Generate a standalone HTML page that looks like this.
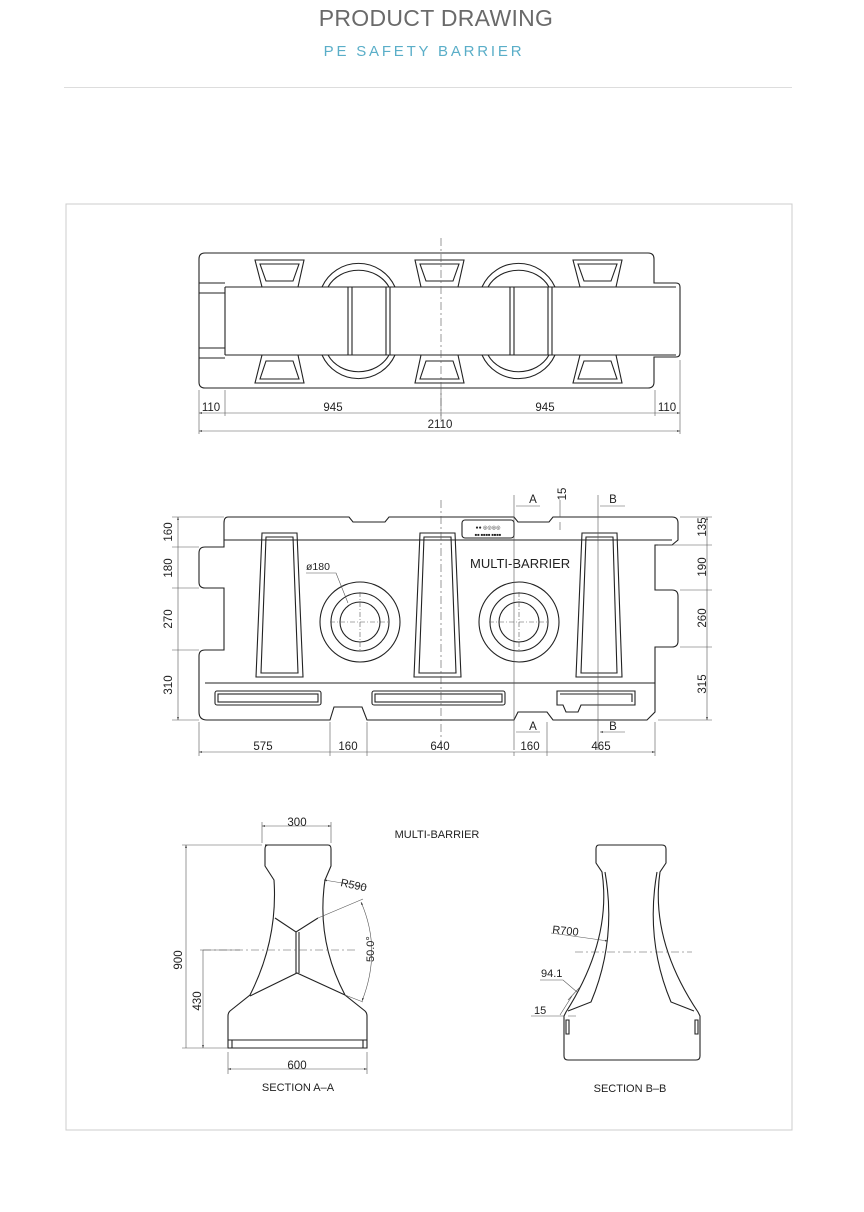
<!DOCTYPE html>
<html><head><meta charset="utf-8"><style>
html,body{margin:0;padding:0;background:#fff;}
body{width:864px;height:1212px;position:relative;overflow:hidden;font-family:"Liberation Sans",sans-serif;}
.t1{position:absolute;top:5px;left:0;width:872px;text-align:center;font-size:23px;color:#6a6a6a;letter-spacing:0.3px;}
.t2{position:absolute;top:43px;left:0;width:848px;text-align:center;font-size:15px;color:#5aaec8;letter-spacing:2.8px;}
.hr{position:absolute;top:87px;left:64px;width:728px;height:1px;background:#ddd;}
svg{position:absolute;left:0;top:0;}
text{font-family:"Liberation Sans",sans-serif;fill:#222;}
</style></head><body>
<div class="t1">PRODUCT DRAWING</div>
<div class="t2">PE SAFETY BARRIER</div>
<div class="hr"></div>
<svg width="864" height="1212" viewBox="0 0 864 1212">
<defs><marker id="a" viewBox="0 0 10 10" refX="10" refY="5" markerWidth="7" markerHeight="5" orient="auto-start-reverse"><path d="M0,2 L10,5 L0,8z" fill="#333"/></marker></defs>
<rect x="66" y="204" width="726" height="926" fill="none" stroke="#ccc" stroke-width="1"/>
<g fill="none" stroke="#222" stroke-width="1.1">
<!-- TOP VIEW -->
<path d="M205,253 H648 Q654,253 654,259 V283 H676 Q680,283 680,287 V353 Q680,357 676,357 H654 V382 Q654,388 648,388 H205 Q199,388 199,382 V259 Q199,253 205,253Z"/>
<path d="M225,287 H676 M225,355 H676 M225,287 V355 M199,283 H225 M199,358 H225 M199,293 H225 M199,348 H225"/>
<path d="M255,260 H304 L298,287 H262Z M415,260 H464 L458,287 H421Z M573,260 H622 L616,287 H580Z"/>
<path d="M260,264 H299 L293,281 H266Z M420,264 H459 L453,281 H426Z M578,264 H617 L611,281 H584Z"/>
<path d="M262,355 H298 L304,383 H255Z M421,355 H458 L464,383 H415Z M580,355 H616 L622,383 H573Z"/>
<path d="M266,361 H293 L299,379 H260Z M426,361 H453 L459,379 H420Z M584,361 H611 L617,379 H578Z"/>
<path d="M322,287 A40,40 0 0 1 395,287 M328,287 A34,30 0 0 1 389,287 M322,355 A40,40 0 0 0 395,355 M328,355 A34,30 0 0 0 389,355 M482,287 A40,40 0 0 1 555,287 M488,287 A34,30 0 0 1 549,287 M482,355 A40,40 0 0 0 555,355 M488,355 A34,30 0 0 0 549,355"/>
<path d="M348,287 V355 M352,287 V355 M386,287 V355 M390,287 V355 M510,287 V355 M514,287 V355 M548,287 V355 M552,287 V355"/>
</g>
<g stroke="#555" stroke-width="0.6" fill="none">
<path d="M441,238 V420" stroke-dasharray="8,3,2,3"/>
<path d="M199,390 V434 M225,390 V416 M441,390 V416 M655,390 V416 M680,360 V434"/>
<path d="M199,413 H225 M225,413 H441 M441,413 H655 M655,413 H680" marker-start="url(#a)" marker-end="url(#a)"/>
<path d="M199,431 H680" marker-start="url(#a)" marker-end="url(#a)"/>
</g>
<g font-size="11.5" text-anchor="middle">
<text x="211" y="411">110</text><text x="333" y="411">945</text><text x="545" y="411">945</text><text x="667" y="411">110</text><text x="440" y="428">2110</text>
</g>
<!-- FRONT VIEW -->
<g fill="none" stroke="#222" stroke-width="1.1">
<path d="M228,517 H349 L353,522 H385 L389,517 H514 L518,522 H549 L553,517 H672 Q678,517 678,523 V540 L672,545 H655 V590 H672 Q678,590 678,596 V641 Q678,647 672,647 H655 V712 L647,720 H553 L547,712 H518 L514,720 H367 L362,707 H334 L330,720 H207 Q199,720 199,712 V656 Q199,650 205,650 H224 V588 H205 Q199,588 199,582 V553 Q199,547 205,547 H224 V523 Q224,517 228,517Z"/>
<path d="M224,540 H672 M205,683 H655"/>
<path d="M262,533 H297 L303,677 H256Z M266,537 H293 L298,673 H261Z"/>
<path d="M420,533 H455 L461,677 H414Z M424,537 H451 L456,673 H419Z"/>
<path d="M582,533 H617 L622,677 H576Z M586,537 H613 L617,673 H581Z"/>
<circle cx="360" cy="622" r="40"/><circle cx="360" cy="622" r="29"/><circle cx="360" cy="622" r="20"/>
<circle cx="519" cy="622" r="40"/><circle cx="519" cy="622" r="29"/><circle cx="519" cy="622" r="20"/>
<rect x="215" y="691" width="106" height="14" rx="2"/><rect x="218" y="694" width="100" height="8"/>
<rect x="372" y="691" width="133" height="14" rx="2"/><rect x="375" y="694" width="127" height="8"/>
<path d="M557,691 H635 V705 H581 L578,712 H566 L563,705 H557Z M560,694 H632 V702"/>
<rect x="462" y="520" width="52" height="18" rx="3"/>
</g>
<text x="488" y="529" font-size="5" text-anchor="middle">●● ◎◎◎◎</text>
<text x="488" y="536" font-size="4" text-anchor="middle">■■ ■■■■ ■■■■</text>
<text x="470" y="568" font-size="13">MULTI-BARRIER</text>
<text x="306" y="570" font-size="10.5">ø180</text>
<g stroke="#555" stroke-width="0.6" fill="none">
<path d="M306,573 H336 L348,603"/>
<path d="M441,500 V745" stroke-dasharray="8,3,2,3"/>
<path d="M330,622 H390 M360,592 V652 M489,622 H549 M519,592 V652" stroke-dasharray="5,2,1,2"/>
<path d="M514,495 V750 M598,495 V750"/>
<path d="M540,506 H516 M625,506 H600 M540,732 H516 M625,732 H600" marker-end="url(#a)"/>
<path d="M560,500 V517 M560,530 V522" />
<path d="M172,517 H224 M172,547 H199 M172,588 H199 M172,650 H199 M172,720 H199"/>
<path d="M178,517 V547 M178,547 V588 M178,588 V650 M178,650 V720" marker-start="url(#a)" marker-end="url(#a)"/>
<path d="M680,517 H712 M658,545 H712 M680,590 H712 M680,647 H712 M658,720 H712"/>
<path d="M707,517 V545 M707,545 V590 M707,590 V647 M707,647 V720" marker-start="url(#a)" marker-end="url(#a)"/>
<path d="M199,722 V756 M330,722 V756 M367,722 V756 M514,752 V756 M547,722 V756 M655,722 V756"/>
<path d="M199,752 H330 M330,752 H367 M367,752 H514 M514,752 H547 M547,752 H655" marker-start="url(#a)" marker-end="url(#a)"/>
</g>
<g font-size="11.5" text-anchor="middle">
<text x="533" y="503">A</text><text x="613" y="503">B</text><text x="533" y="730">A</text><text x="613" y="730">B</text>
<text x="263" y="750">575</text><text x="348" y="750">160</text><text x="440" y="750">640</text><text x="530" y="750">160</text><text x="601" y="750">465</text>
<text transform="translate(172,532) rotate(-90)">160</text>
<text transform="translate(172,568) rotate(-90)">180</text>
<text transform="translate(172,619) rotate(-90)">270</text>
<text transform="translate(172,685) rotate(-90)">310</text>
<text transform="translate(566,494) rotate(-90)">15</text>
<text transform="translate(706,527) rotate(-90)">135</text>
<text transform="translate(706,567) rotate(-90)">190</text>
<text transform="translate(706,618) rotate(-90)">260</text>
<text transform="translate(706,684) rotate(-90)">315</text>
</g>
<!-- SECTION A-A -->
<g fill="none" stroke="#222" stroke-width="1.1">
<path d="M265,845 H328 Q331,845 331,849 V866 L325,880 Q316,940 345,995 L365,1011 Q367,1013 367,1016 V1048 H228 V1016 Q228,1013 230,1011 L250,995 Q278,940 274,880 L265,866 V849 Q265,845 268,845Z"/>
<path d="M228,1040 H367 M232,1040 V1048 M363,1040 V1048"/>
<path d="M275,918 L296,932 L318,918 M296,932 V973 M299,932 V973 M250,996 L297,973 L345,995"/>
</g>
<g stroke="#555" stroke-width="0.6" fill="none">
<path d="M262,822 V843 M331,822 V843"/>
<path d="M262,826 H331" marker-start="url(#a)" marker-end="url(#a)"/>
<path d="M182,845 H262 M182,1048 H228 M200,950 H240"/>
<path d="M186,845 V1048 M203,950 V1048" marker-start="url(#a)" marker-end="url(#a)"/>
<path d="M203,950 H356" stroke-dasharray="8,3,2,3"/>
<path d="M228,1052 V1074 M367,1052 V1074"/>
<path d="M228,1069 H367" marker-start="url(#a)" marker-end="url(#a)"/>
<path d="M367,887 L324,880" marker-end="url(#a)"/>
<path d="M318,918 L363,899 M345,995 L363,1002"/>
<path d="M361,902 Q382,950 362,1001" marker-start="url(#a)" marker-end="url(#a)"/>
</g>
<text x="340" y="886" font-size="11" transform="rotate(12,340,886)">R590</text>
<text transform="translate(374,962) rotate(-90)" font-size="11">50.0°</text>
<text transform="translate(182,960) rotate(-90)" font-size="11.5" text-anchor="middle">900</text>
<text transform="translate(201,1001) rotate(-90)" font-size="11.5" text-anchor="middle">430</text>
<text x="297" y="826" font-size="11.5" text-anchor="middle">300</text>
<text x="297" y="1069" font-size="11.5" text-anchor="middle">600</text>
<text x="298" y="1091" font-size="11" text-anchor="middle">SECTION A–A</text>
<text x="437" y="838" font-size="11" text-anchor="middle">MULTI-BARRIER</text>
<!-- SECTION B-B -->
<g fill="none" stroke="#222" stroke-width="1.1">
<path d="M599,845 H662 Q666,845 666,849 V863 L660,872 Q650,940 698,1012 L700,1016 V1056 Q700,1060 696,1060 H568 Q564,1060 564,1056 V1016 L566,1012 Q612,940 602,872 L596,863 V849 Q596,845 599,845Z"/>
<path d="M605,872 Q617,940 591,1002 L568,1011 M657,872 Q645,940 671,1002 L694,1011"/>
<path d="M566,1020 V1034 H569 V1020Z M695,1020 V1034 H698 V1020Z"/>
</g>
<g stroke="#555" stroke-width="0.6" fill="none">
<path d="M575,952 H692" stroke-dasharray="8,3,2,3"/>
<path d="M551,933 L608,941" marker-end="url(#a)"/>
<path d="M540,980 H563 L577,992 M568,1000 L580,987 M560,1015 L572,996" />
<path d="M531,1016 H564 M568,1016 H576"/>
</g>
<text x="552" y="933" font-size="11" transform="rotate(6,552,933)">R700</text>
<text x="541" y="977" font-size="11">94.1</text>
<text x="534" y="1014" font-size="11">15</text>
<text x="630" y="1092" font-size="11" text-anchor="middle">SECTION B–B</text>
</svg>
</body></html>
